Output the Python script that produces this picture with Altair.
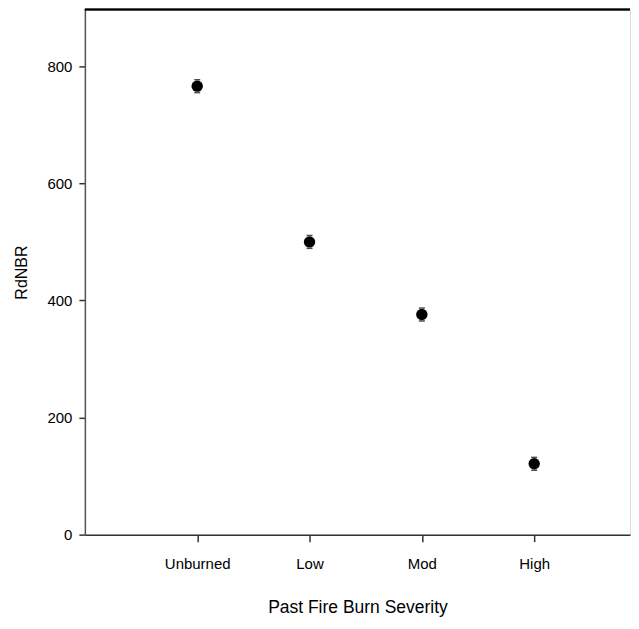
import altair as alt
import pandas as pd

categories = ["Unburned", "Low", "Mod", "High"]
positions = [1, 2, 3, 4]
rdnbr = [766, 500, 376, 121]
se = [11, 11, 11, 11]

df = pd.DataFrame({"pos": positions, "cat": categories, "rdnbr": rdnbr, "se": se})
df["lo"] = df["rdnbr"] - df["se"]
df["hi"] = df["rdnbr"] + df["se"]

label_expr = ("datum.value == 1 ? 'Unburned' : datum.value == 2 ? 'Low' : "
              "datum.value == 3 ? 'Mod' : datum.value == 4 ? 'High' : ''")

FONT = "Liberation Sans"

x = alt.X("pos:Q",
          scale=alt.Scale(domain=[0, 4.853], nice=False, zero=False),
          axis=alt.Axis(values=positions, labelExpr=label_expr, grid=False,
                        title="Past Fire Burn Severity", tickSize=7,
                        labelPadding=15, titlePadding=27,
                        labelFont=FONT, labelFontSize=15,
                        titleFont=FONT, titleFontSize=17.5, titleFontWeight="normal",
                        domainColor="#333", tickColor="#333", domainWidth=1.5, tickWidth=1.5,
                        labelColor="black", titleColor="black"))
y = alt.Y("rdnbr:Q",
          scale=alt.Scale(domain=[0, 897], nice=False),
          axis=alt.Axis(values=[0, 200, 400, 600, 800], grid=False, title="RdNBR",
                        tickSize=6, labelPadding=7, titlePadding=17,
                        labelFont=FONT, labelFontSize=15,
                        titleFont=FONT, titleFontSize=16, titleFontWeight="normal",
                        domainColor="#555", tickColor="#333", domainWidth=1.5, tickWidth=1.5,
                        labelColor="black", titleColor="black"))

base = alt.Chart(df)

caps_lo = base.mark_tick(color="black", thickness=1.5, size=6, orient="horizontal").encode(x=x, y="lo:Q")
caps_hi = base.mark_tick(color="black", thickness=1.5, size=6, orient="horizontal").encode(x=x, y="hi:Q")

points = base.mark_point(filled=True, shape="circle", size=130, color="black", opacity=1).encode(
    x=x, y=y
)

top = base.mark_rule(color="black", strokeWidth=1.5).encode(
    y=alt.datum(897)
)

chart = alt.layer(top, caps_lo, caps_hi, points).properties(
    width=546, height=526, padding={"left": 5, "top": 0, "right": 0, "bottom": 0}
).configure_view(stroke=None).configure(background="white")

chart.save("out.html", embed_options={"renderer": "svg", "actions": False})
